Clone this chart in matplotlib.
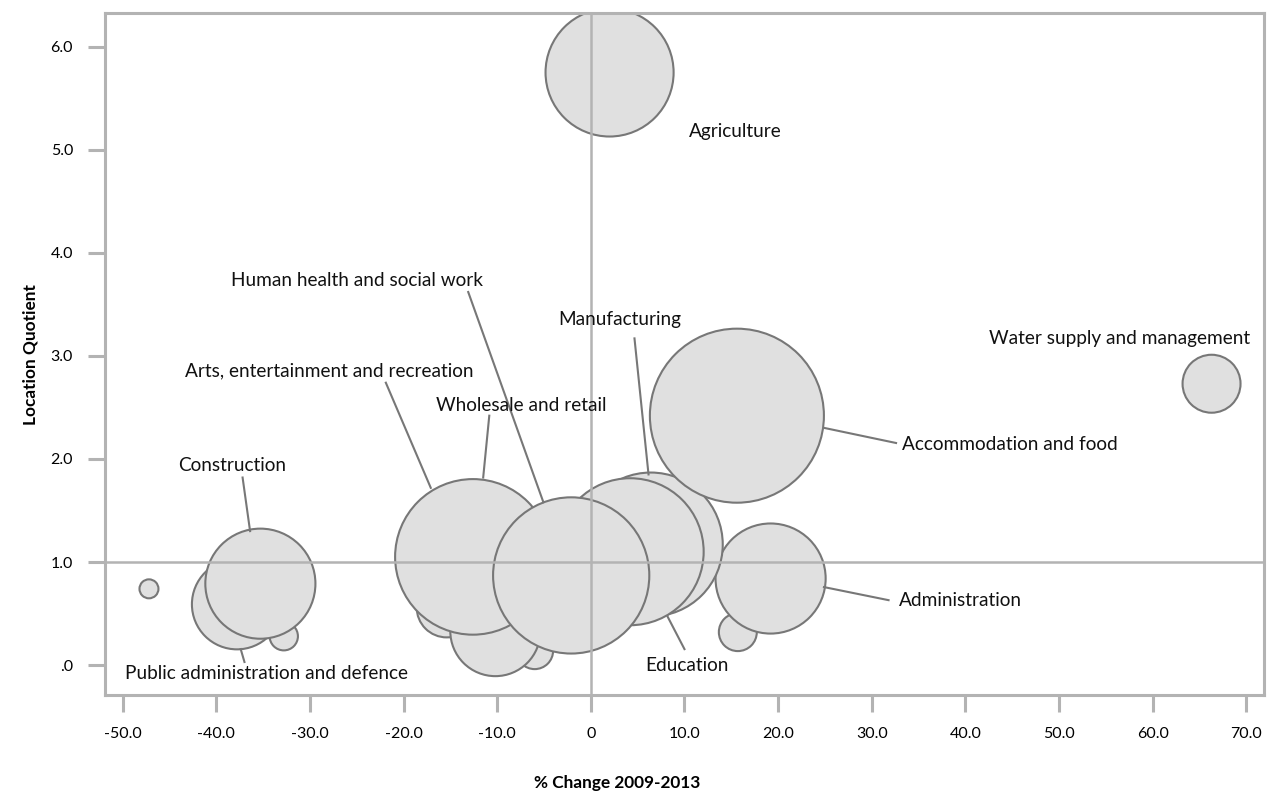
import numpy as np
import matplotlib.pyplot as plt

# % change 2009-2013, location quotient, bubble weight (employment, arbitrary units)
sectors = ['Agriculture', 'Accommodation and food', 'Water supply and management',
           'Administration', 'Other services', 'Education', 'Manufacturing',
           'Human health and social work', 'Wholesale and retail',
           'Arts, entertainment and recreation', 'Transport', 'Finance',
           'Mining', 'Construction', 'Public administration and defence', 'ICT']
pct_change = [2.0, 15.6, 66.3, 19.2, 15.7, 4.2, 6.4, -2.1, -12.6, -10.2, -15.4, -6.0,
              -47.2, -35.3, -37.8, -32.8]
loc_quot = [5.75, 2.42, 2.73, 0.84, 0.32, 1.10, 1.17, 0.87, 1.05, 0.33, 0.56, 0.14,
            0.74, 0.79, 0.59, 0.28]
weight = [410, 757, 84, 303, 36, 540, 518, 610, 605, 203, 90, 34, 9, 303, 203, 20]

xticks = np.arange(-50, 71, 10)
xticklabels = ['0' if t == 0 else '%.1f' % t for t in xticks]
yticks = np.arange(0, 7, 1)
yticklabels = ['.0' if t == 0 else '%.1f' % t for t in yticks]

FONT = 'Lato'
GRID = '#b3b3b3'
EDGE = '#777777'

fig = plt.figure(figsize=(12.77, 7.94), dpi=100)
ax = fig.add_axes([0.0822, 0.1247, 0.9076, 0.8593])

order = np.argsort(weight, kind='stable')
x = np.array(pct_change)[order]
y = np.array(loc_quot)[order]
s = np.array(weight)[order] * 20.74
ax.scatter(x, y, s=s, c='#e0e0e0', edgecolors=EDGE, linewidths=1.5, zorder=2)

ax.axvline(0, color=GRID, lw=1.8, zorder=3)
ax.axhline(1, color=GRID, lw=1.8, zorder=3)

# label text position, leader start, leader end
labels = {
    'Agriculture': ((10.5, 5.18), None),
    'Water supply and management': ((42.5, 3.17), None),
    'Accommodation and food': ((33.2, 2.14), ((25.0, 2.30), (32.6, 2.155))),
    'Administration': ((32.9, 0.63), ((24.9, 0.757), (31.8, 0.63))),
    'Manufacturing': ((-3.5, 3.35), ((4.66, 3.17), (6.16, 1.85))),
    'Human health and social work': ((-38.4, 3.73), ((-13.1, 3.62), (-5.07, 1.58))),
    'Arts, entertainment and recreation': ((-43.4, 2.85), ((-21.9, 2.74), (-17.1, 1.72))),
    'Wholesale and retail': ((-16.5, 2.52), ((-10.85, 2.42), (-11.5, 1.82))),
    'Construction': ((-44.1, 1.94), ((-37.2, 1.82), (-36.4, 1.30))),
    'Public administration and defence': ((-49.8, -0.08), ((-37.0, 0.03), (-37.4, 0.155))),
    'Education': ((5.84, 0.0), ((10.0, 0.155), (8.2, 0.47))),
}
for name, (pos, leader) in labels.items():
    ax.text(pos[0], pos[1], name, fontsize=13.7, family=FONT, color='#111111',
            ha='left', va='center', zorder=5)
    if leader:
        ax.plot([leader[0][0], leader[1][0]], [leader[0][1], leader[1][1]],
                color=EDGE, lw=1.5, zorder=4)

ax.set_xlim(-51.9, 71.9)
ax.set_ylim(-0.29, 6.33)
ax.set_xticks(xticks)
ax.set_xticklabels(xticklabels)
ax.set_yticks(yticks)
ax.set_yticklabels(yticklabels)
for sp in ax.spines.values():
    sp.set_color(GRID)
    sp.set_linewidth(2.2)
ax.tick_params(length=12, width=2.2, color=GRID, pad=11, labelsize=11.5)
for lbl in ax.get_xticklabels() + ax.get_yticklabels():
    lbl.set_family(FONT)

fig.text(617 / 1277, 1 - 783 / 794, '% Change 2009-2013', fontsize=12.4, fontweight='bold',
         family=FONT, ha='center', va='center')
fig.text(30 / 1277, 1 - 355 / 794, 'Location Quotient', fontsize=12.4, fontweight='bold',
         family=FONT, ha='center', va='center', rotation=90)

fig.savefig('out.png', dpi=100)
